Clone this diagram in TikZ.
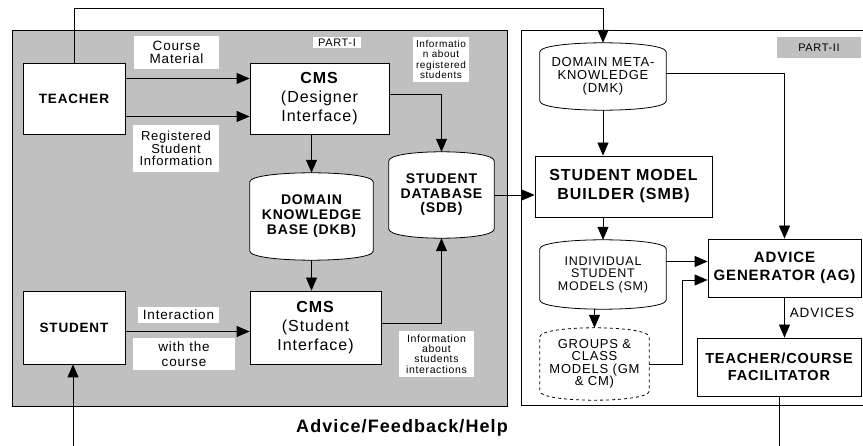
\documentclass[tikz,border=0pt]{standalone}
\usepackage{fontspec}
\setmainfont{Liberation Sans}[LetterSpace=6]
\usepackage{tikz}
\usetikzlibrary{arrows.meta,backgrounds}

\definecolor{partgray}{RGB}{192,192,192}
\newcommand\fsz[2]{\fontsize{#1}{#2}\selectfont}
% outline of a drum shaped store round node #1
\newcommand\drumpath[1]{([yshift=-9pt]#1.north west) .. controls ([xshift=1pt,yshift=3pt]#1.north west) and ([xshift=-1pt,yshift=3pt]#1.north east) .. ([yshift=-9pt]#1.north east) -- ([yshift=9pt]#1.south east) .. controls ([xshift=-1pt,yshift=-3pt]#1.south east) and ([xshift=1pt,yshift=-3pt]#1.south west) .. ([yshift=9pt]#1.south west) -- cycle}

\tikzset{
  box/.style={draw, fill=white, line width=0.8pt, inner sep=0pt, align=center},
  drum/.style={inner sep=0pt, align=center},
  lbl/.style={fill=white, inner sep=0pt, align=center},
  arr/.style={-{Triangle[length=13pt,width=11pt]}, line width=0.8pt},
  ln/.style={line width=0.8pt}
}

\begin{document}
\begin{tikzpicture}[x=1pt, y=-1pt]
    \useasboundingbox (0,0) rectangle (863,446);

    % part I
    \node[box, minimum width=102pt, minimum height=71pt, font=\fsz{13.5}{15}\bfseries] (teacher) at (74,98.5) {TEACHER};
    \node[box, minimum width=139pt, minimum height=71pt, font=\fsz{16}{19}] (cmsd) at (319.5,98.5) {\textbf{CMS}\\(Designer\\Interface)};
    \node[box, minimum width=102pt, minimum height=73pt, font=\fsz{13.5}{15}\bfseries] (student) at (74,327.5) {STUDENT};
    \node[box, minimum width=131pt, minimum height=73pt, font=\fsz{16}{19}] (cmss) at (315.5,327.5) {\textbf{CMS}\\(Student\\Interface)};
    \node[drum, minimum width=123pt, minimum height=87pt, font=\fsz{14}{15}\bfseries] (dkb) at (311.5,216.5) {DOMAIN\\KNOWLEDGE\\BASE (DKB)};
    \node[drum, minimum width=105pt, minimum height=86pt, font=\fsz{14}{14.5}\bfseries] (sdb) at (441.5,195) {STUDENT\\DATABASE\\(SDB)};

    \node[lbl, minimum width=85pt, minimum height=33pt, font=\fsz{13.5}{13}] (crsmat) at (176.5,52.5) {Course\\Material};
    \node[lbl, minimum width=86pt, minimum height=47pt, font=\fsz{13}{12.5}] (reginfo) at (176,148.5) {Registered\\Student\\Information};
    \node[lbl, minimum width=48pt, minimum height=11pt, font=\fsz{11}{11}] (part1) at (337,42.5) {PART-I};
    \node[lbl, minimum width=56pt, minimum height=45pt, font=\fsz{10}{10.5}] (infreg) at (441,59.5) {Informatio\\n about\\registered\\students};
    \node[lbl, minimum width=75pt, minimum height=46pt, font=\fsz{10.5}{10.3}] (infint) at (436.5,354) {Information\\about\\students\\interactions};
    \node[lbl, minimum width=81pt, minimum height=16pt, font=\fsz{13.5}{14}] (interact) at (178.5,315) {Interaction};
    \node[lbl, minimum width=102pt, minimum height=32pt, font=\fsz{13.5}{15.5}] (withcrs) at (184,354) {with the\\course};

    % part II
    \node[drum, minimum width=126pt, minimum height=67pt, font=\fsz{13}{13}] (dmk) at (603,76.5) {DOMAIN META-\\KNOWLEDGE\\(DMK)};
    \node[box, minimum width=177pt, minimum height=61pt, font=\fsz{16}{19}\bfseries] (smb) at (623.5,186.5) {STUDENT MODEL\\BUILDER (SMB)};
    \node[drum, minimum width=126pt, minimum height=69pt, font=\fsz{12.5}{12.5}] (ism) at (603,274.5) {INDIVIDUAL\\STUDENT\\MODELS (SM)};
    \node[drum, minimum width=109pt, minimum height=72pt, font=\fsz{13}{12.5}] (gcm) at (594.5,364) {GROUPS \&\\CLASS\\MODELS (GM\\\& CM)};
    \node[box, minimum width=153pt, minimum height=58pt, font=\fsz{15}{18}\bfseries] (ag) at (784.5,268) {ADVICE\\GENERATOR (AG)};
    \node[box, minimum width=164pt, minimum height=58pt, font=\fsz{14.5}{17}\bfseries] (tcf) at (779,367) {TEACHER/COURSE\\FACILITATOR};
    \node[fill=partgray, inner sep=0pt, minimum width=84pt, minimum height=21pt, font=\fsz{11}{11}] (part2) at (819,47.5) {PART-II};
    \node[font=\fsz{13.5}{14}, inner sep=0pt] (advices) at (822,313) {ADVICES};

    \node[font=\fsz{18}{20}\bfseries, inner sep=0pt] (help) at (402,428) {Advice/Feedback/Help};

    \coordinate (topln) at (0,8);
    \coordinate (stin) at (73,446);
    \coordinate (tcfout) at (778,446);

    % frames and stores behind everything
    \begin{pgfonlayer}{background}
        \draw[ln, fill=partgray] (12,30) rectangle (507,406);
        \draw[ln] (863,30) -- (521,30) -- (521,405) -- (863,405);
        \foreach \s in {dkb,sdb,dmk,ism}
            \draw[ln, fill=white] \drumpath{\s};
        \draw[ln, fill=white, dashed] \drumpath{gcm};
    \end{pgfonlayer}

    % connectors
    \draw[arr] (teacher.north) -- (teacher.north |- topln) -| (dmk.north);
    \draw[arr] ([yshift=20pt]teacher.east) -- ([yshift=20pt]teacher.east -| cmsd.west);
    \draw[arr] ([yshift=-18pt]teacher.east) -- ([yshift=-18pt]teacher.east -| cmsd.west);
    \draw[arr] ([yshift=4pt]cmsd.east) -| (sdb.north);
    \draw[arr] (dkb.north |- cmsd.south) -- (dkb.north);
    \draw[arr] (dkb.south) -- (dkb.south |- cmss.north);
    \draw[arr] ([yshift=4pt]cmss.east) -| (sdb.south);
    \draw[arr] ([yshift=-4pt]student.east) -- ([yshift=-4pt]student.east -| cmss.west);
    \draw[arr] (stin) -- (stin |- student.south);
    \draw[arr] (sdb.east) -- (sdb.east -| smb.west);
    \draw[arr] (dmk.south) -- (dmk.south |- smb.north);
    \draw[arr] ([yshift=3pt]dmk.east) -| (ag.north);
    \draw[arr] (ism.north |- smb.south) -- (ism.north);
    \draw[arr] ([yshift=13pt]ism.east) -- ([yshift=13pt]ism.east -| ag.west);
    \draw[arr] (gcm.north |- ism.south) -- (gcm.north);
    \draw[arr] (gcm.east) -- ++(33,0) |- ([yshift=-12pt]ag.west);
    \draw[arr] (ag.south) -- (ag.south |- tcf.north);
    \draw[ln] (tcf.south) -- (tcf.south |- tcfout);
\end{tikzpicture}
\end{document}
